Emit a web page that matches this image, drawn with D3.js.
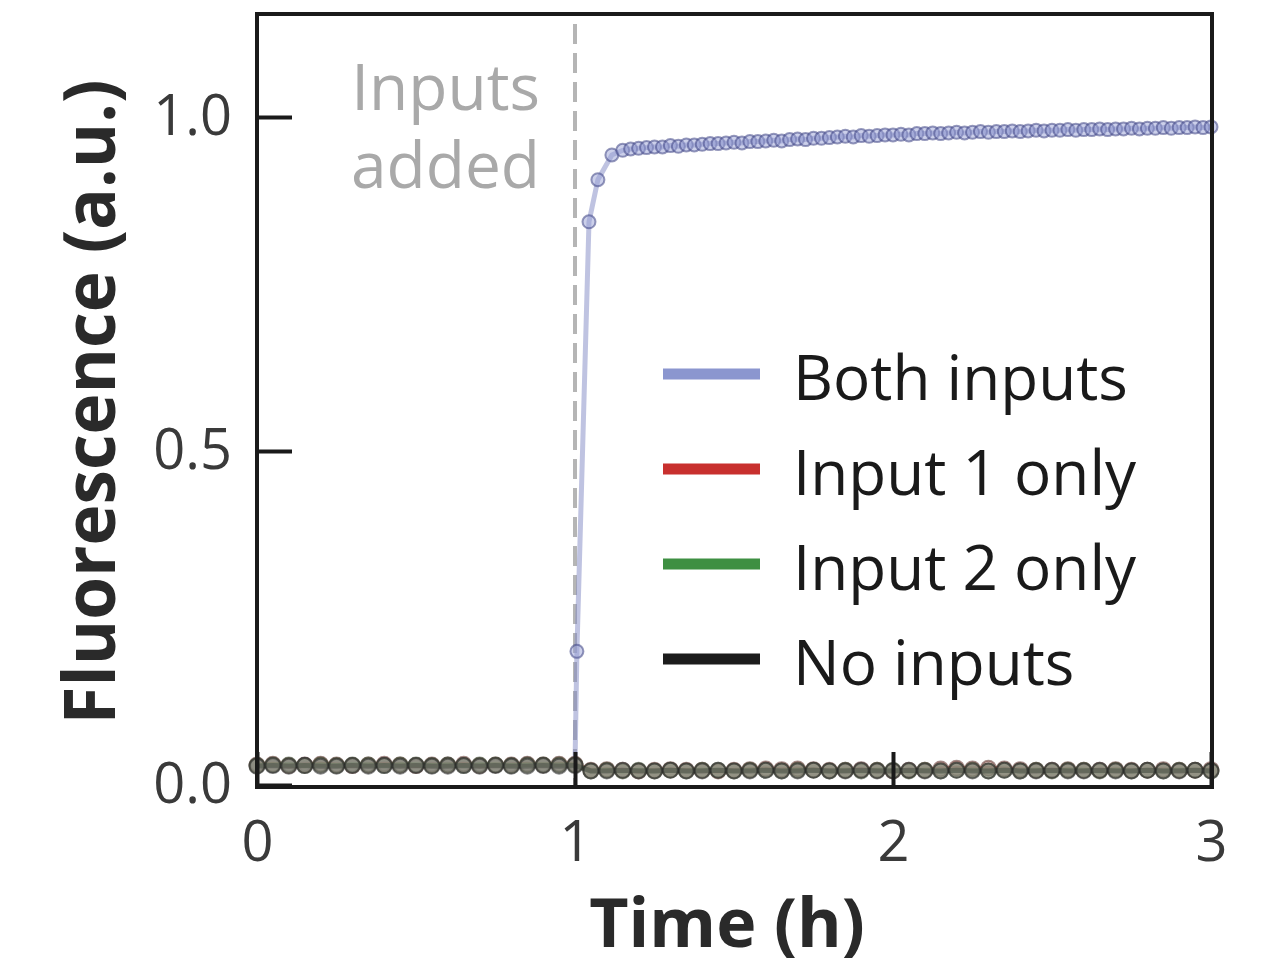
<html>
<head>
<script src='https://d3js.org/d3.v7.min.js'></script>
<style>
  body { margin: 0; background: white; }
  text { font-family: 'Open Sans', sans-serif; }
</style>
</head>
<body>
<svg width=1281 height=967></svg>
<script>
  // times (h) for the low series, one point every 3 min
  var timeLow = [0,0.05,0.1,0.15,0.2,0.25,0.3,0.35,0.4,0.45,0.5,0.55,0.6,0.65,0.7,0.75,0.8,0.85,0.9,0.95,1.0,
    1.05,1.1,1.15,1.2,1.25,1.3,1.35,1.4,1.45,1.5,1.55,1.6,1.65,1.7,1.75,1.8,1.85,1.9,1.95,2.0,
    2.05,2.1,2.15,2.2,2.25,2.3,2.35,2.4,2.45,2.5,2.55,2.6,2.65,2.7,2.75,2.8,2.85,2.9,2.95,3.0];

  var input1Only = [0.030,0.031,0.029,0.030,0.031,0.030,0.029,0.030,0.031,0.030,0.029,0.030,0.030,0.031,0.029,0.030,0.030,0.031,0.030,0.031,0.031,
    0.022,0.023,0.022,0.021,0.022,0.023,0.022,0.022,0.021,0.022,0.023,0.024,0.023,0.024,0.023,0.022,0.022,0.023,0.022,0.021,
    0.022,0.022,0.024,0.025,0.024,0.025,0.024,0.023,0.022,0.022,0.023,0.022,0.022,0.023,0.022,0.022,0.023,0.022,0.022,0.023];
  var input2Only = [0.029,0.030,0.030,0.029,0.030,0.029,0.030,0.030,0.029,0.030,0.030,0.029,0.030,0.029,0.030,0.030,0.029,0.030,0.030,0.030,0.030,
    0.021,0.022,0.021,0.022,0.021,0.022,0.021,0.022,0.022,0.021,0.022,0.022,0.021,0.022,0.022,0.021,0.022,0.021,0.022,0.022,
    0.021,0.022,0.021,0.022,0.022,0.021,0.022,0.021,0.022,0.021,0.022,0.022,0.021,0.022,0.021,0.022,0.021,0.022,0.022,0.021];
  var noInputs = [0.028,0.029,0.028,0.029,0.028,0.028,0.029,0.028,0.029,0.028,0.029,0.028,0.028,0.029,0.028,0.029,0.028,0.028,0.029,0.028,0.029,
    0.021,0.021,0.022,0.021,0.021,0.022,0.021,0.021,0.022,0.021,0.021,0.022,0.021,0.021,0.022,0.021,0.021,0.022,0.021,0.021,
    0.022,0.021,0.021,0.022,0.021,0.021,0.022,0.021,0.021,0.022,0.021,0.021,0.022,0.021,0.021,0.022,0.021,0.021,0.022,0.021];

  // both inputs: denser sampling after the jump
  var timeBoth = [0,0.05,0.1,0.15,0.2,0.25,0.3,0.35,0.4,0.45,0.5,0.55,0.6,0.65,0.7,0.75,0.8,0.85,0.9,0.95,1.0,
    1.006,1.044,1.072,1.116,
    1.15,1.175,1.2,1.225,1.25,1.275,1.3,1.325,1.35,1.375,1.4,1.425,1.45,1.475,1.5,1.525,1.55,1.575,1.6,1.625,1.65,1.675,1.7,1.725,1.75,1.775,1.8,1.825,1.85,1.875,1.9,1.925,1.95,1.975,
    2.0,2.025,2.05,2.075,2.1,2.125,2.15,2.175,2.2,2.225,2.25,2.275,2.3,2.325,2.35,2.375,2.4,2.425,2.45,2.475,2.5,2.525,2.55,2.575,2.6,2.625,2.65,2.675,2.7,2.725,2.75,2.775,2.8,2.825,2.85,2.875,2.9,2.925,2.95,2.975,3.0];
  var bothInputs = [0.030,0.029,0.030,0.031,0.030,0.029,0.030,0.030,0.031,0.030,0.029,0.030,0.031,0.030,0.030,0.029,0.030,0.031,0.030,0.030,0.031,
    0.200,0.843,0.906,0.943,
    0.950,0.952,0.953,0.954,0.955,0.955,0.957,0.956,0.958,0.958,0.959,0.960,0.960,0.961,0.962,0.961,0.963,0.963,0.964,0.965,0.964,0.966,0.967,0.966,0.968,0.968,0.969,0.970,0.971,0.970,0.972,0.971,0.972,0.973,
    0.973,0.974,0.973,0.975,0.975,0.976,0.975,0.976,0.977,0.976,0.977,0.978,0.977,0.978,0.978,0.979,0.978,0.979,0.980,0.979,0.980,0.980,0.981,0.980,0.981,0.981,0.982,0.981,0.982,0.982,0.983,0.982,0.983,0.983,0.984,0.983,0.984,0.984,0.985,0.984,0.985];

  var legendNames = ["Both inputs", "Input 1 only", "Input 2 only", "No inputs"];
  var legendColors = ["#8b96cf", "#c8302e", "#3e8f42", "#1c1c1c"];
  var yTicks = [0, 0.5, 1.0];
  var xTicks = [0, 1, 2, 3];
  var inputsAddedAt = 1;

  function draw() {
    var svg = d3.select("svg");
    var pLeft = 257, pRight = 1212, pTop = 14, pBottom = 787;

    var xs = d3.scaleLinear().domain([0, 3]).range([pLeft, 1211]);
    var ys = d3.scaleLinear().domain([-0.003, 1.154]).range([pBottom, pTop]);

    // dashed line where inputs are added
    svg.append("line")
      .attr("x1", xs(inputsAddedAt)).attr("x2", xs(inputsAddedAt))
      .attr("y1", pTop + 10).attr("y2", pBottom)
      .attr("stroke", "#b5b5b5").attr("stroke-width", 4)
      .attr("stroke-dasharray", "20,9");

    svg.append("text")
      .attr("x", 540).attr("y", 110)
      .attr("text-anchor", "end")
      .attr("font-size", 64).attr("fill", "#a9a9a9")
      .text("Inputs");
    svg.append("text")
      .attr("x", 540).attr("y", 188)
      .attr("text-anchor", "end")
      .attr("font-size", 64).attr("fill", "#a9a9a9")
      .text("added");

    var line = d3.line().x(d => xs(d[0])).y(d => ys(d[1]));

    var series = [
      { t: timeBoth, v: bothInputs, line: "#8088c4", fill: "#9aa2d6", edge: "#3f4585", r: 6.5 },
      { t: timeLow, v: input1Only, line: "#c8302e", fill: "#b88078", edge: "#5b2f2a", r: 7.5 },
      { t: timeLow, v: input2Only, line: "#3e8f42", fill: "#7f9870", edge: "#34432c", r: 7.5 },
      { t: timeLow, v: noInputs, line: "#1c1c1c", fill: "#7a7a74", edge: "#2e2e2e", r: 7.5 }
    ];

    series.forEach(function(s) {
      var pts = s.t.map((t, i) => [t, s.v[i]]);
      var g = svg.append("g");
      g.append("path").datum(pts)
        .attr("d", line)
        .attr("fill", "none")
        .attr("stroke", s.line).attr("stroke-width", 5)
        .attr("stroke-opacity", 0.5);
      g.selectAll("circle").data(pts).enter()
        .append("circle")
        .attr("cx", d => xs(d[0]))
        .attr("cy", d => ys(d[1]))
        .attr("r", s.r)
        .attr("fill", s.fill).attr("fill-opacity", 0.5)
        .attr("stroke", s.edge).attr("stroke-opacity", 0.55)
        .attr("stroke-width", 2);
    });

    // axes with inward ticks
    var yAxis = svg.append("g").attr("transform", "translate(" + pLeft + ",0)")
      .call(d3.axisLeft(ys).tickValues(yTicks).tickSizeInner(-35).tickSizeOuter(0).tickPadding(25)
        .tickFormat(d3.format(".1f")));
    var xAxis = svg.append("g").attr("transform", "translate(0," + pBottom + ")")
      .call(d3.axisBottom(xs).tickValues(xTicks).tickSizeInner(-35).tickSizeOuter(0).tickPadding(34)
        .tickFormat(d3.format("d")));
    [yAxis, xAxis].forEach(function(a) {
      a.select(".domain").remove();
      a.selectAll("line").attr("stroke", "#1a1a1a").attr("stroke-width", 4);
      a.selectAll("text").attr("font-size", 56).attr("fill", "#3a3a3a")
        .attr("font-family", "'Open Sans', sans-serif");
    });

    // frame
    svg.append("rect")
      .attr("x", pLeft).attr("y", pTop)
      .attr("width", pRight - pLeft).attr("height", pBottom - pTop)
      .attr("fill", "none").attr("stroke", "#1a1a1a").attr("stroke-width", 4);

    // legend
    var legend = svg.append("g").selectAll("g").data(legendNames).enter()
      .append("g").attr("transform", (d, i) => "translate(0," + (374 + i * 95) + ")");
    legend.append("line")
      .attr("x1", 663).attr("x2", 760)
      .attr("stroke", (d, i) => legendColors[i]).attr("stroke-width", 11);
    legend.append("text")
      .attr("x", 793).attr("y", 26)
      .attr("font-size", 62).attr("fill", "#1a1a1a")
      .text(d => d);

    // axis titles
    svg.append("text")
      .attr("x", 727).attr("y", 947)
      .attr("text-anchor", "middle")
      .attr("font-size", 68).attr("font-weight", "bold").attr("fill", "#2a2a2a")
      .text("Time (h)");
    svg.append("text")
      .attr("transform", "translate(115,402) rotate(-90)")
      .attr("text-anchor", "middle")
      .attr("font-size", 72).attr("font-weight", "bold").attr("fill", "#2a2a2a")
      .attr("textLength", 645).attr("lengthAdjust", "spacingAndGlyphs")
      .text("Fluorescence (a.u.)");
  }
  draw();
</script>
</body>
</html>
